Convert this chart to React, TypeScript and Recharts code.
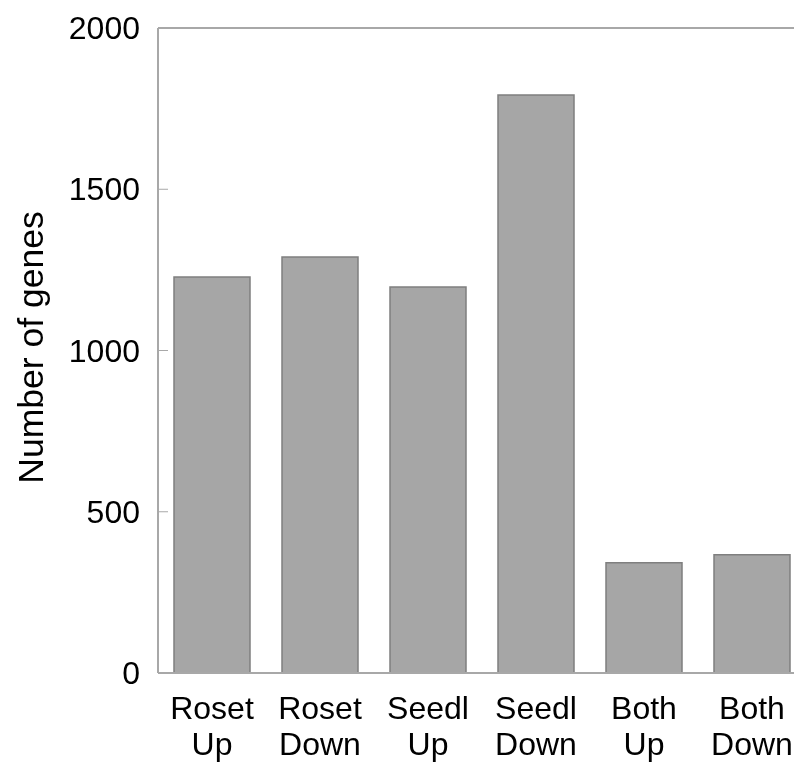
import { BarChart, Bar, XAxis, YAxis, ReferenceLine } from 'recharts'

const groups = ['Roset', 'Roset', 'Seedl', 'Seedl', 'Both', 'Both']
const directions = ['Up', 'Down', 'Up', 'Down', 'Up', 'Down']
const geneCounts = [1228, 1290, 1197, 1792, 342, 367]
const yTicks = [0, 500, 1000, 1500, 2000]

const data = geneCounts.map((value, i) => ({
  key: `${groups[i]} ${directions[i]}`,
  group: groups[i],
  direction: directions[i],
  value,
}))

const FONT = '"Liberation Sans", Arial, sans-serif'
const AXIS_GREY = '#a8a8a8'

function XTick({ x, y, index }: any) {
  return (
    <text x={x} textAnchor="middle" fontFamily={FONT} fontSize={32} fill="#000">
      <tspan x={x} y={y + 46}>{groups[index]}</tspan>
      <tspan x={x} y={y + 82}>{directions[index]}</tspan>
    </text>
  )
}

function YTick({ x, y, payload }: any) {
  return (
    <g>
      <line x1={x + 18} x2={x + 28} y1={y} y2={y} stroke={AXIS_GREY} strokeWidth={1} />
      <text x={x} y={y} dy={11} textAnchor="end" fontFamily={FONT} fontSize={32} fill="#000">
        {payload.value}
      </text>
    </g>
  )
}

function YTitle({ viewBox }: any) {
  const cx = viewBox.x + 35
  const cy = viewBox.y + viewBox.height / 2 - 3
  return (
    <text
      x={cx}
      y={cy}
      transform={`rotate(-90, ${cx}, ${cy})`}
      textAnchor="middle"
      fontFamily={FONT}
      fontSize={35.5}
      fill="#000"
    >
      Number of genes
    </text>
  )
}

export default function App() {
  return (
    <div style={{ position: 'fixed', left: 8, top: 8, width: 786, height: 755, overflow: 'hidden' }}>
      <BarChart
        width={800}
        height={755}
        data={data}
        margin={{ top: 20, right: 2, bottom: 0, left: 0 }}
      >
        <XAxis
          dataKey="key"
          height={90}
          tickLine={false}
          tickSize={0}
          tickMargin={0}
          axisLine={{ stroke: AXIS_GREY, strokeWidth: 2 }}
          tick={<XTick />}
          interval={0}
        />
        <YAxis
          width={150}
          domain={[0, 2000]}
          ticks={yTicks}
          tickLine={false}
          tickSize={0}
          tickMargin={18}
          axisLine={{ stroke: AXIS_GREY, strokeWidth: 2 }}
          tick={<YTick />}
          label={<YTitle />}
        />
        <ReferenceLine y={2000} stroke={AXIS_GREY} strokeWidth={2} />
        <Bar
          dataKey="value"
          barSize={76}
          fill="#a6a6a6"
          stroke="#7f7f7f"
          strokeWidth={1.5}
          isAnimationActive={false}
        />
      </BarChart>
    </div>
  )
}
